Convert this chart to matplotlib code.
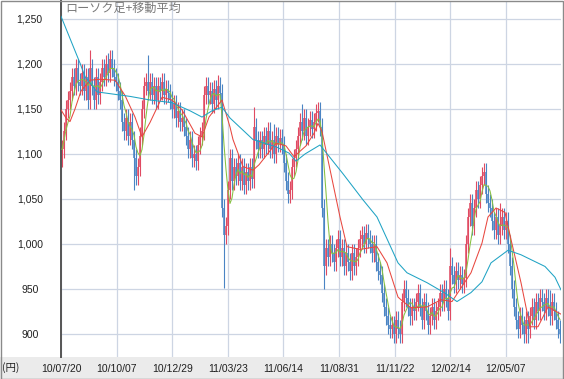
import matplotlib
matplotlib.use("Agg")
import matplotlib.pyplot as plt
import numpy as np
import pandas as pd
from matplotlib.patches import Rectangle

# ---------------- data ----------------
title = "ローソク足+移動平均"
unit_label = "(円)"
tick_labels = ["10/07/20", "10/10/07", "10/12/29", "11/03/23", "11/06/14",
               "11/08/31", "11/11/22", "12/02/14", "12/05/07"]
y_ticks = [900, 950, 1000, 1050, 1100, 1150, 1200, 1250]

closes = (
    [1105, 1125, 1150, 1160, 1170] +
    [1185, 1175, 1195, 1180] +
    [1175, 1190, 1170, 1185, 1160, 1195] +
    [1175, 1160, 1185, 1165, 1180] +
    [1195, 1185, 1200, 1190, 1205, 1195, 1185] +
    [1180, 1170, 1160] +
    [1135, 1125, 1140, 1120, 1135, 1115] +
    [1095, 1075, 1085] +
    [1120, 1150, 1175, 1180] +
    [1170, 1180, 1165, 1175, 1160, 1175, 1170, 1180, 1165, 1172, 1168] +
    [1160, 1150, 1155, 1140, 1148, 1135, 1140, 1130] +
    [1120, 1105, 1115, 1095, 1100, 1092] +
    [1110, 1120, 1125, 1165] +
    [1175, 1165, 1170, 1155, 1172, 1160, 1175, 1168] +
    [1040, 1010] +
    [1020, 1060, 1095, 1070, 1085] +
    [1075, 1090, 1070, 1085, 1065, 1080, 1070, 1085, 1072] +
    [1130, 1115, 1105] +
    [1115, 1105, 1120, 1110, 1125, 1105, 1115, 1100, 1120, 1112, 1118, 1110] +
    [1090, 1070, 1055, 1060] +
    [1085, 1095, 1105] +
    [1120, 1135, 1125, 1140, 1120, 1130, 1138, 1128, 1135, 1145] +
    [1148, 1130] +
    [1040] +
    [975, 995, 985, 1000, 990, 980, 995] +
    [1005, 985, 995, 975, 990] +
    [980, 970, 990, 975, 985] +
    [995, 1005, 1010, 1000, 1012, 1005, 1000] +
    [990, 1000, 980, 970, 965] +
    [945, 930, 920, 910, 905] +
    [910, 900, 915, 905, 900] +
    [935, 950, 940, 930] +
    [920, 930, 925] +
    [935, 945, 930, 915, 935, 925] +
    [910, 920, 930, 915, 925] +
    [930, 945, 935, 950, 940, 925] +
    [975] +
    [965, 955, 970, 960, 965, 955, 962] +
    [1000, 1030, 1045, 1020, 1040] +
    [1060, 1050, 1065, 1075, 1080] +
    [1055, 1045, 1040] +
    [1025, 1015, 1030, 1010] +
    [1020, 1030, 1015, 1025, 1000] +
    [975, 950, 930] +
    [915, 905, 920, 910, 900, 915, 905] +
    [920, 930, 915, 935, 925, 940] +
    [935, 925, 940, 930, 920, 935, 925] +
    [915, 905, 900]
)
first_open = 1095
wick = 10  # typical shadow length (yen)
spike_high = {14: 1215, 23: 1212, 43: 1210, 51: 1190, 78: 1188, 96: 1152,
              106: 1133, 120: 1155, 128: 1157, 194: 995, 211: 1087,
              219: 1045, 244: 949}
spike_low = {36: 1060, 66: 1088, 81: 951, 82: 1005, 113: 1049, 131: 950,
             164: 895, 183: 904, 233: 890}

# 25-day moving average (day index, value)
ma25_day = [-0.5, 2, 4, 6.5, 9.5, 14, 19, 26.5, 31.5, 36.5, 40, 44, 50, 55, 60,
            66.5, 70, 73.5, 80, 84, 85.5, 90.5, 95.5, 98.5, 107, 112, 116, 122,
            126, 128, 130, 139, 142.5, 149, 157.5, 162.5, 168, 169.5, 174.5,
            182.5, 189.5, 195, 204.5, 210, 213, 217, 221.5, 224.5, 229.5, 234,
            238, 243, 249.5]
ma25_val = [1149, 1140, 1136, 1150, 1170, 1182, 1183, 1182, 1165, 1141, 1119,
            1135, 1163, 1160, 1149, 1123, 1119, 1141, 1160, 1130, 1116, 1086,
            1082, 1088, 1112, 1109, 1097, 1109, 1123, 1134, 1125, 1030, 997,
            994, 997, 979, 941, 938, 929, 930, 938, 936, 968, 1001, 1030, 1040,
            1035, 1005, 957, 908, 908, 930, 922]
# 75-day moving average (day index, value)
ma75_day = [-0.5, 9, 11.5, 17.5, 34, 44, 55, 64, 70, 75, 80, 84, 95.5, 107,
            113.5, 117, 121.5, 126, 129, 140.5, 150.5, 157.5, 168, 172.5,
            182.5, 191, 197.5, 204.5, 210, 214.5, 223, 229.5, 241.5, 246.5,
            249.5]
ma75_val = [1253, 1201, 1186, 1169, 1164, 1160, 1157, 1148, 1141, 1148, 1152,
            1140, 1116, 1108, 1101, 1092, 1100, 1106, 1110, 1078, 1049, 1030,
            979, 968, 957, 946, 936, 946, 958, 979, 993, 988, 975, 963, 949]

# ---------------- derived OHLC ----------------
closes = np.array(closes, dtype=float)
opens = np.concatenate([[first_open], closes[:-1]])
highs = np.maximum(opens, closes) + wick
lows = np.minimum(opens, closes) - wick
for k, v in spike_high.items():
    highs[k] = max(highs[k], v)
for k, v in spike_low.items():
    lows[k] = min(lows[k], v)
days = np.arange(len(closes))
ma5 = pd.Series(closes).rolling(5, min_periods=1).mean().values

# ---------------- figure ----------------
W, H = 564, 379
fig = plt.figure(figsize=(W / 100, H / 100), dpi=100)
fig.patch.set_facecolor("white")

# bottom grey strip and frame
fig.add_artist(Rectangle((0, 0), 1, 22 / H, transform=fig.transFigure,
                         facecolor="#ebebeb", edgecolor="none", zorder=0))
fig.add_artist(Rectangle((0.5 / W, 0.5 / H), (W - 1.5) / W, (H - 1.5) / H,
                         transform=fig.transFigure, facecolor="none",
                         edgecolor="#8a8a8a", lw=1.0, zorder=10))

ax = fig.add_axes([61 / W, 22 / H, (561 - 61) / W, (H - 1 - 22) / H])
ax.set_facecolor("white")

up = closes >= opens
red, blue = "#e04a62", "#4a84c4"
cols = np.where(up, red, blue)
ax.vlines(days, lows, highs, colors=cols, lw=0.8, zorder=2)
ax.vlines(days, np.minimum(opens, closes), np.maximum(opens, closes),
          colors=cols, lw=1.1, zorder=2)

ax.plot(days, ma5, color="#86c040", lw=0.75, zorder=3)
ax.plot(ma25_day, ma25_val, color="#e8473f", lw=0.75, zorder=3)
ax.plot(ma75_day, ma75_val, color="#1fa3c4", lw=0.75, zorder=3)

ax.set_xlim(-0.5, 249.5)
ax.set_ylim(874.4, 1270)

tick_pos = [-0.5 + k * 27.8 for k in range(len(tick_labels))]
ax.set_xticks(tick_pos)
ax.set_xticklabels(tick_labels, family="Liberation Sans", fontsize=7.5,
                   color="#202020")
ax.set_yticks(y_ticks)
ax.set_yticklabels([f"{v:,}" for v in y_ticks], family="Liberation Sans",
                   fontsize=7.5, color="#202020", ha="center")
ax.tick_params(axis="x", length=0, pad=5)
ax.tick_params(axis="y", length=0, pad=22.5)

ax.grid(True, color="#cdd5e3", lw=0.9, zorder=0)
ax.set_axisbelow(True)

for s in ["top", "right", "bottom"]:
    ax.spines[s].set_visible(False)
ax.spines["left"].set_color("#555555")
ax.spines["left"].set_linewidth(1.4)

ax.text(0.008, 0.997, title, transform=ax.transAxes, ha="left", va="top",
        family=["Noto Sans CJK JP", "DejaVu Sans"], fontsize=8.7,
        color="#7a7a7a", zorder=5)

fig.text(2 / W, 11 / H, unit_label, ha="left", va="center",
         family=["Noto Sans CJK JP", "DejaVu Sans"], fontsize=7.5,
         color="#202020")

fig.savefig("out.png", dpi=100)
